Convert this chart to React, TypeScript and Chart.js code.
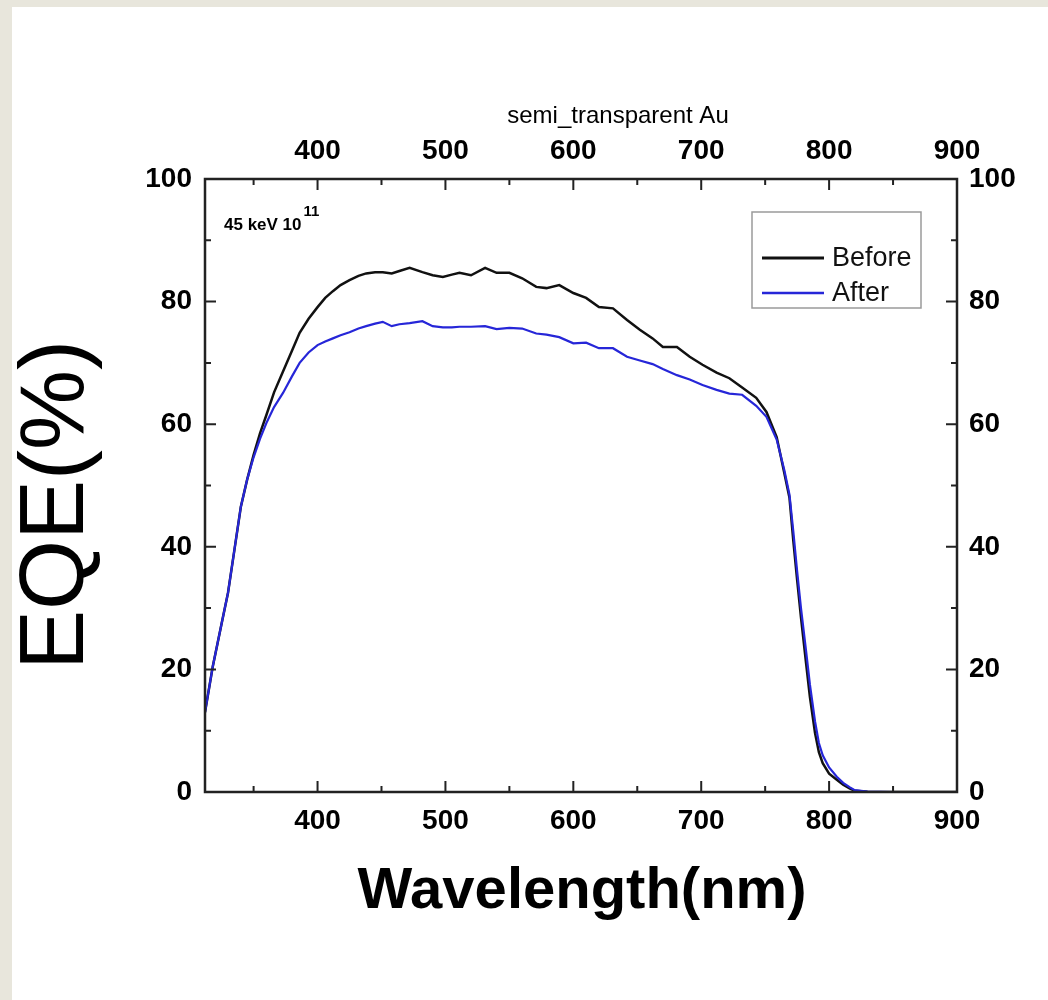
import React, { useEffect, useRef } from "react";
import { Chart, registerables } from "chart.js";

Chart.register(...registerables);

// ---------------- data ----------------
const wavelengths = [
  312, 318, 325, 330, 335, 340, 345, 350, 355, 360, 366, 373, 380, 386, 393, 400,
  406, 412, 418, 425, 432, 438, 445, 451, 458, 464, 472, 482, 490, 498, 505, 511,
  520, 531, 540, 550, 560, 571, 579, 589, 600, 610, 620, 631, 642, 652, 662, 670,
  681, 691, 701, 712, 722, 732, 743, 751, 759, 765, 769, 772, 775, 778, 782, 785,
  789, 792, 795, 800, 806, 811, 816, 820, 830, 850, 870, 900,
];

const beforeEQE = [
  13, 20.4, 27.5, 32.5, 39.5, 46.5, 51, 55, 58.5, 61.5, 65.2, 68.6, 72, 74.9, 77.2, 79.1,
  80.6, 81.7, 82.7, 83.5, 84.2, 84.6, 84.8, 84.8, 84.6, 85, 85.5, 84.8, 84.3, 84, 84.4, 84.7,
  84.3, 85.5, 84.7, 84.7, 83.8, 82.4, 82.2, 82.7, 81.4, 80.6, 79.1, 78.9, 77, 75.4, 74, 72.6,
  72.6, 71, 69.7, 68.4, 67.5, 66, 64.3, 62, 57.9, 52, 48, 41, 34.6, 28.5, 21, 15.5,
  9.6, 6.5, 4.7, 3, 2, 1.2, 0.6, 0.2, 0.05, 0, 0, 0,
];

const afterEQE = [
  13, 20.4, 27.5, 32.5, 39.5, 46.5, 51, 54.6, 57.6, 60.2, 62.8, 65.1, 67.8, 70, 71.7, 72.9,
  73.5, 74, 74.5, 75, 75.6, 76, 76.4, 76.7, 76, 76.3, 76.5, 76.8, 76, 75.8, 75.8, 75.9,
  75.9, 76, 75.5, 75.7, 75.6, 74.8, 74.6, 74.2, 73.2, 73.3, 72.4, 72.4, 71, 70.4, 69.8, 69,
  68, 67.3, 66.4, 65.6, 65, 64.8, 63, 61.2, 57.5, 52.5, 48.5, 42.5, 36, 30, 23, 17.5,
  11.5, 8, 6, 4, 2.5, 1.5, 0.8, 0.3, 0.05, 0, 0, 0,
];

const seriesLabels = ["Before", "After"];
const seriesColors = ["#111111", "#2626d8"];

const xMin = 312;
const xMax = 900;
const xTickValues = [400, 500, 600, 700, 800, 900];
const xMinorValues = [350, 450, 550, 650, 750, 850];
const yTickValues = [0, 20, 40, 60, 80, 100];
const yMinorValues = [10, 30, 50, 70, 90];

const topTitle = "semi_transparent Au";
const xTitle = "Wavelength(nm)";
const yTitle = "EQE(%)";
const noteText = "45 keV 10";
const noteSup = "11";

const FONT = '"Liberation Sans", Arial, Helvetica, sans-serif';

export default function App() {
  const ref = useRef<HTMLCanvasElement>(null);

  useEffect(() => {
    const canvas = ref.current;
    if (!canvas) return;

    const decor = {
      id: "decor",
      beforeDraw(chart: any) {
        const ctx = chart.ctx;
        ctx.save();
        ctx.fillStyle = "#e8e6dc";
        ctx.fillRect(0, 0, chart.width, chart.height);
        ctx.fillStyle = "#ffffff";
        ctx.fillRect(12, 7, chart.width - 12, chart.height - 7);
        ctx.restore();
      },
      afterDraw(chart: any) {
        const ctx = chart.ctx;
        const a = chart.chartArea;
        const sx = chart.scales.x;
        const sy = chart.scales.y;
        ctx.save();

        // frame
        ctx.strokeStyle = "#222";
        ctx.lineWidth = 2.5;
        ctx.strokeRect(a.left, a.top, a.right - a.left, a.bottom - a.top);

        // inward ticks
        ctx.lineWidth = 2;
        const major = 11;
        const minor = 6;
        const tickX = (v: number, len: number) => {
          const px = sx.getPixelForValue(v);
          ctx.beginPath();
          ctx.moveTo(px, a.bottom);
          ctx.lineTo(px, a.bottom - len);
          ctx.moveTo(px, a.top);
          ctx.lineTo(px, a.top + len);
          ctx.stroke();
        };
        const tickY = (v: number, len: number) => {
          const py = sy.getPixelForValue(v);
          ctx.beginPath();
          ctx.moveTo(a.left, py);
          ctx.lineTo(a.left + len, py);
          ctx.moveTo(a.right, py);
          ctx.lineTo(a.right - len, py);
          ctx.stroke();
        };
        xTickValues.forEach((v) => tickX(v, major));
        xMinorValues.forEach((v) => tickX(v, minor));
        yTickValues.forEach((v) => tickY(v, major));
        yMinorValues.forEach((v) => tickY(v, minor));

        // titles
        ctx.fillStyle = "#000";
        ctx.textAlign = "center";
        ctx.textBaseline = "alphabetic";
        ctx.font = `24px ${FONT}`;
        ctx.fillText(topTitle, 618, 123);

        ctx.font = `bold 58px ${FONT}`;
        ctx.fillText(xTitle, (a.left + a.right) / 2 + 1, 908);

        ctx.save();
        ctx.translate(83, 505);
        ctx.rotate(-Math.PI / 2);
        ctx.font = `90px ${FONT}`;
        ctx.fillText(yTitle, 0, 0);
        ctx.restore();

        // annotation
        ctx.textAlign = "left";
        ctx.font = `bold 17px ${FONT}`;
        ctx.fillText(noteText, 224, 230);
        const w = ctx.measureText(noteText).width;
        ctx.font = `bold 15px ${FONT}`;
        ctx.fillText(noteSup, 224 + w + 2, 216);

        // legend
        ctx.strokeStyle = "#9a9a9a";
        ctx.lineWidth = 1.5;
        ctx.strokeRect(752, 212, 169, 96);
        const rows = [258, 293];
        chart.data.datasets.forEach((ds: any, i: number) => {
          const y = rows[i];
          ctx.strokeStyle = ds.borderColor;
          ctx.lineWidth = i === 0 ? 3 : 2.5;
          ctx.beginPath();
          ctx.moveTo(762, y);
          ctx.lineTo(824, y);
          ctx.stroke();
          ctx.fillStyle = "#111";
          ctx.font = `27px ${FONT}`;
          ctx.textBaseline = "middle";
          ctx.fillText(ds.label, 832, y + 1);
        });

        ctx.restore();
      },
    };

    const tickFont = { family: FONT, size: 28, weight: "bold" as const };

    const chart = new Chart(canvas, {
      type: "line",
      data: {
        datasets: [
          {
            label: seriesLabels[0],
            data: wavelengths.map((x, i) => ({ x, y: beforeEQE[i] })),
            borderColor: seriesColors[0],
            borderWidth: 2.5,
            pointRadius: 0,
            tension: 0,
            fill: false,
            order: 1,
          },
          {
            label: seriesLabels[1],
            data: wavelengths.map((x, i) => ({ x, y: afterEQE[i] })),
            borderColor: seriesColors[1],
            borderWidth: 2.2,
            pointRadius: 0,
            tension: 0,
            fill: false,
            order: 0,
          },
        ],
      },
      options: {
        responsive: false,
        animation: false,
        devicePixelRatio: 1,
        layout: { padding: 0 },
        plugins: {
          legend: { display: false },
          tooltip: { enabled: false },
        },
        scales: {
          x: {
            type: "linear",
            position: "bottom",
            min: xMin,
            max: xMax,
            afterBuildTicks: (s: any) => {
              s.ticks = xTickValues.map((v) => ({ value: v }));
            },
            afterFit: (s: any) => {
              s.height = 208;
            },
            grid: { display: false, drawTicks: false },
            border: { display: false },
            ticks: { font: tickFont, color: "#000", padding: 12, maxRotation: 0, autoSkip: false },
          },
          x2: {
            type: "linear",
            axis: "x",
            position: "top",
            min: xMin,
            max: xMax,
            afterBuildTicks: (s: any) => {
              s.ticks = xTickValues.map((v) => ({ value: v }));
            },
            afterFit: (s: any) => {
              s.height = 179;
            },
            grid: { display: false, drawTicks: false },
            border: { display: false },
            ticks: { font: tickFont, color: "#000", padding: 11, maxRotation: 0, autoSkip: false },
          },
          y: {
            type: "linear",
            position: "left",
            min: 0,
            max: 100,
            afterBuildTicks: (s: any) => {
              s.ticks = yTickValues.map((v) => ({ value: v }));
            },
            afterFit: (s: any) => {
              s.width = 205;
            },
            grid: { display: false, drawTicks: false },
            border: { display: false },
            ticks: { font: tickFont, color: "#000", padding: 13 },
          },
          y2: {
            type: "linear",
            axis: "y",
            position: "right",
            min: 0,
            max: 100,
            afterBuildTicks: (s: any) => {
              s.ticks = yTickValues.map((v) => ({ value: v }));
            },
            afterFit: (s: any) => {
              s.width = 91;
            },
            grid: { display: false, drawTicks: false },
            border: { display: false },
            ticks: { font: tickFont, color: "#000", padding: 12 },
          },
        },
      },
      plugins: [decor],
    } as any);

    return () => chart.destroy();
  }, []);

  return (
    <div style={{ position: "fixed", left: 0, top: 0, width: 1048, height: 1000 }}>
      <canvas ref={ref} width={1048} height={1000} style={{ display: "block", width: 1048, height: 1000 }} />
    </div>
  );
}
